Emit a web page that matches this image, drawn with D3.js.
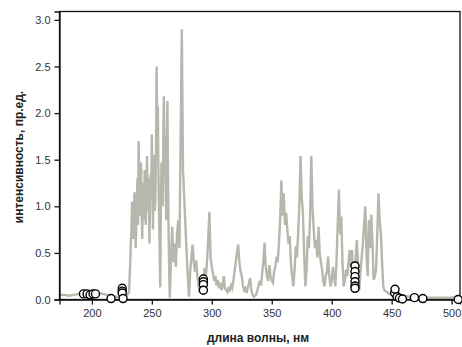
<!DOCTYPE html>
<html>
<head>
<meta charset="utf-8">
<script src="https://cdn.jsdelivr.net/npm/d3@7"></script>
<style>
  body { margin: 0; background: #fff; }
  svg { display: block; font-family: "Liberation Sans", Arial, sans-serif; }
</style>
</head>
<body>
<svg id="chart"></svg>
<script>
// spectrum, wavelength (nm) / intensity (a.u.)
const waveNm = [173, 177, 181, 185, 189, 193, 197, 201, 205, 209, 213, 217, 221, 225, 229, 231,
  232, 232.5, 233, 233.5, 234, 234.5, 235, 235.5, 236, 236.5, 237, 237.5, 238, 238.5, 239, 239.5,
  240, 240.5, 241, 241.5, 242, 242.5, 243, 243.5, 244, 244.5, 245, 245.5, 246, 246.5, 247, 247.5,
  248, 248.5, 249, 249.5, 250, 250.5, 251, 251.5, 252, 252.5, 253, 253.5, 254, 254.5, 255, 255.5,
  256, 256.5, 257, 257.5, 258, 258.5, 259, 259.5, 260, 260.5, 261, 261.5, 262, 262.5, 263, 263.5,
  264, 264.5, 265, 266, 267, 268, 269, 270,
  271, 272, 273, 274, 275, 276, 277, 278, 279, 280, 281, 282, 283, 284, 285, 286, 287, 288, 289, 290,
  291, 292, 293, 294, 295, 296, 297, 298, 299, 300, 301, 302, 303, 304, 305, 306, 307, 308, 309, 310,
  311, 312, 313, 314, 315, 316, 317, 318, 319, 320, 321, 322, 323, 324, 325, 326, 327, 328, 329, 330,
  331, 332, 333, 334, 335, 336, 337, 338, 339, 340, 341, 342, 343, 344, 345, 346, 347, 348, 349, 350,
  351, 352, 353, 354, 355, 356, 357, 358, 359, 360, 361, 362, 363, 364, 365, 366, 367, 368, 369, 370,
  371, 372, 373, 374, 375, 376, 377, 378, 379, 380, 381, 382, 383, 384, 385, 386, 387, 388, 389, 390,
  391, 392, 393, 394, 395, 396, 397, 398, 399, 400, 401, 402, 403, 404, 405, 406, 407, 408, 409, 410,
  411, 412, 413, 414, 415, 416, 417, 418, 419, 420, 421, 422, 423, 424, 425, 426, 427, 428, 429, 430,
  431, 432, 433, 434, 435, 436, 437, 438, 439, 440, 441, 442, 443, 444, 446, 448, 451, 455, 460, 465,
  470, 475, 480, 485, 490, 495, 500, 504];
const intensity = [0.05, 0.05, 0.04, 0.05, 0.06, 0.05, 0.06, 0.05, 0.07, 0.06, 0.05, 0.03, 0.03, 0.03, 0.04, 0.08,
  0.40, 0.60, 0.75, 1.05, 1.00, 0.65, 0.80, 1.15, 1.10, 0.55, 0.75, 1.05, 1.30, 0.80, 1.70, 1.20,
  0.90, 1.25, 1.47, 0.95, 0.65, 1.10, 1.25, 0.85, 1.39, 1.00, 0.80, 1.20, 1.54, 1.10, 0.95, 1.30,
  0.60, 1.00, 1.35, 1.15, 1.77, 1.30, 0.75, 1.20, 1.55, 0.95, 1.10, 1.60, 2.50, 1.80, 2.07, 1.40,
  0.90, 0.55, 0.13, 0.90, 1.47, 1.20, 1.00, 1.60, 2.18, 1.75, 1.68, 1.20, 0.85, 1.50, 2.13, 1.30,
  0.70, 0.30, 0.02, 0.45, 0.78, 0.40, 0.60, 0.35,
  0.70, 0.85, 0.55, 1.70, 2.90, 1.40, 1.10, 0.80, 0.50, 0.25, 0.03, 0.30, 0.45, 0.59, 0.40, 0.30, 0.42, 0.25, 0.15, 0.07,
  0.15, 0.25, 0.20, 0.34, 0.25, 0.40, 0.65, 0.94, 0.45, 0.35, 0.28, 0.20, 0.25, 0.15, 0.21, 0.12, 0.18, 0.10, 0.14, 0.25,
  0.12, 0.10, 0.08, 0.12, 0.10, 0.15, 0.12, 0.20, 0.30, 0.40, 0.50, 0.59, 0.40, 0.30, 0.25, 0.15, 0.10, 0.12, 0.07, 0.12,
  0.18, 0.23, 0.10, 0.05, 0.03, 0.04, 0.05, 0.10, 0.15, 0.20, 0.15, 0.28, 0.40, 0.61, 0.35, 0.25, 0.20, 0.37, 0.25, 0.20,
  0.18, 0.30, 0.35, 0.46, 0.40, 0.60, 0.85, 1.28, 0.90, 1.14, 0.80, 0.93, 0.75, 0.60, 0.68, 0.39, 0.25, 0.14, 0.30, 0.57,
  0.45, 0.70, 1.00, 1.54, 1.10, 0.93, 0.50, 0.14, 0.30, 0.68, 0.55, 0.90, 1.54, 1.00, 0.75, 0.55, 0.64, 0.45, 0.78, 0.50,
  0.40, 0.32, 0.20, 0.14, 0.25, 0.30, 0.46, 0.25, 0.14, 0.20, 0.35, 0.25, 0.14, 0.40, 0.80, 1.18, 0.70, 0.89, 0.40, 0.14,
  0.20, 0.32, 0.25, 0.40, 0.53, 0.35, 0.53, 0.14, 0.30, 0.45, 0.64, 0.35, 0.10, 0.30, 0.45, 0.60, 0.80, 1.00, 0.50, 0.25,
  0.85, 0.55, 0.91, 0.60, 0.21, 0.25, 0.32, 0.70, 1.14, 0.85, 0.71, 0.40, 0.14, 0.10, 0.08, 0.06, 0.05, 0.05, 0.04, 0.03,
  0.03, 0.03, 0.02, 0.02, 0.02, 0.02, 0.02, 0.03];

// open-circle measurements
const pointNm = [193, 196, 198.5, 201, 203, 216, 225.3, 225.3, 225.3, 226,
  293, 293, 293, 293,
  419.4, 419.4, 419.4, 419.4, 419.4, 419.4,
  452.5, 452.8, 454.5, 456.5, 459, 469, 476, 505.5];
const pointVal = [0.06, 0.06, 0.05, 0.06, 0.06, 0.01, 0.12, 0.09, 0.07, 0.01,
  0.22, 0.19, 0.16, 0.10,
  0.36, 0.30, 0.245, 0.19, 0.145, 0.12,
  0.07, 0.11, 0.03, 0.015, 0.005, 0.02, 0.01, 0.0];

const xTicks = [200, 250, 300, 350, 400, 450, 500];
const yTicks = [0, 0.5, 1.0, 1.5, 2.0, 2.5, 3.0];

const xTitle = "длина волны, нм";
const yTitle = "интенсивность, пр.ед.";

let svgWidth = 462, svgHeight = 347;
let margin = { top: 11.5, right: 2, bottom: 47.5, left: 59.5 };
let width = svgWidth - margin.left - margin.right;
let height = svgHeight - margin.top - margin.bottom;

let svg = d3.select("#chart")
  .attr("width", svgWidth)
  .attr("height", svgHeight);

let g = svg.append("g")
  .attr("transform", "translate(" + margin.left + "," + margin.top + ")");

let x = d3.scaleLinear().domain([173, 507]).range([0, width]);
let y = d3.scaleLinear().domain([0, 3.09]).range([height, 0]);

let spectrum = waveNm.map((d, i) => [d, intensity[i]]);
let points = pointNm.map((d, i) => [d, pointVal[i]]);

let line = d3.line()
  .x(d => x(d[0]))
  .y(d => y(d[1]));

g.append("path")
  .datum(spectrum)
  .attr("fill", "none")
  .attr("stroke", "#b7b7ad")
  .attr("stroke-width", 2.4)
  .attr("stroke-linejoin", "miter")
  .attr("d", line);

// frame
g.append("rect")
  .attr("width", width)
  .attr("height", height)
  .attr("fill", "none")
  .attr("stroke", "#111")
  .attr("stroke-width", 1.3);

let xAxis = g.append("g")
  .attr("transform", "translate(0," + height + ")")
  .call(d3.axisBottom(x).tickValues(xTicks).tickSize(5).tickPadding(5).tickFormat(d3.format("d")));

let yAxis = g.append("g")
  .call(d3.axisLeft(y).tickValues(yTicks).tickSize(5).tickPadding(4).tickFormat(d3.format(".1f")));

[xAxis, yAxis].forEach(a => {
  a.select(".domain").attr("stroke", "#111").attr("stroke-width", 1.3);
  a.selectAll(".tick line").attr("stroke", "#111").attr("stroke-width", 1.3);
  a.selectAll(".tick text").attr("fill", "#333").style("font-size", "11px");
});

g.selectAll("circle.pt")
  .data(points)
  .enter().append("circle")
  .attr("class", "pt")
  .attr("cx", d => x(d[0]))
  .attr("cy", d => y(d[1]))
  .attr("r", 4)
  .attr("fill", "#fff")
  .attr("stroke", "#000")
  .attr("stroke-width", 1.4);

svg.append("text")
  .attr("x", 258)
  .attr("y", 342)
  .attr("text-anchor", "middle")
  .style("font-size", "12px")
  .style("font-weight", "bold")
  .attr("fill", "#222")
  .text(xTitle);

svg.append("text")
  .attr("transform", "translate(23,157) rotate(-90)")
  .attr("text-anchor", "middle")
  .style("font-size", "12px")
  .style("font-weight", "bold")
  .attr("fill", "#222")
  .text(yTitle);
</script>
</body>
</html>
